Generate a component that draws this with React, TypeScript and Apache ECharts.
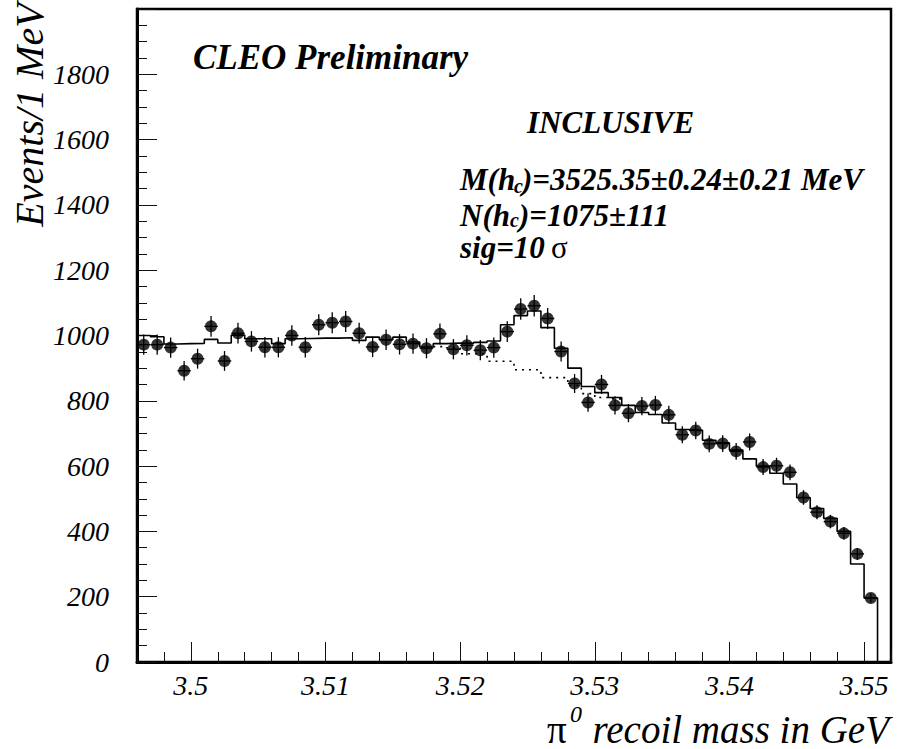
import React, { useEffect, useRef } from "react";
import * as echarts from "echarts";

// ---- binning (GeV) ----
const BIN_START = 3.496;
const BIN_WIDTH = 0.001;
const X_MAX = 3.552;

// ---- data: events per 1 MeV bin (55 bins, 3.496 .. 3.551) ----
const counts = [
  972, 972, 963, 892, 929, 1028, 922, 1007, 982, 964,
  964, 1000, 964, 1033, 1039, 1043, 1007, 965, 987, 973,
  975, 961, 1005, 958, 970, 955, 963, 1012, 1081, 1091,
  1052, 951, 853, 795, 850, 786, 762, 784, 787, 757,
  696, 709, 668, 669, 645, 674, 597, 601, 581, 504,
  459, 430, 394, 331, 196,
];

// ---- fit (signal + background) histogram ----
const fitTotal = [
  1000, 996, 974, 975, 976, 988, 977, 1001, 990, 990,
  975, 990, 991, 992, 992, 993, 985, 995, 987, 995,
  980, 965, 975, 977, 976, 979, 983, 1033, 1061, 1075,
  1024, 961, 900, 844, 825, 810, 786, 764, 758, 732,
  712, 710, 679, 671, 649, 622, 600, 578, 545, 503,
  470, 440, 400, 300, 196,
];

// ---- background-only part of the fit (dotted), bins 22..35 ----
const BG_FIRST_BIN = 22;
const fitBackground = [966, 962, 944, 944, 921, 921, 895, 895, 871, 871, 847, 822, 810, 806];

// ---- axis tick labels ----
const xTickLabels = ["3.5", "3.51", "3.52", "3.53", "3.54", "3.55"];
const yTickLabels = ["0", "200", "400", "600", "800", "1000", "1200", "1400", "1600", "1800"];

const SERIF = "Liberation Serif";

const r4 = (v: number) => Math.round(v * 1e6) / 1e6;

function stepPoints(values: number[], firstBin: number): number[][] {
  const pts: number[][] = [];
  values.forEach((v, k) => {
    const lo = r4(BIN_START + (firstBin + k) * BIN_WIDTH);
    const hi = r4(lo + BIN_WIDTH);
    pts.push([lo, v], [hi, v]);
  });
  return pts;
}

export default function App() {
  const ref = useRef<HTMLDivElement>(null);

  useEffect(() => {
    if (!ref.current) return;
    const chart = echarts.init(ref.current, undefined, { renderer: "svg" });

    const centers = counts.map((_, i) => r4(BIN_START + (i + 0.5) * BIN_WIDTH));
    const points = counts.map((c, i) => [centers[i], c]);
    const errors = counts.map((c, i) => [centers[i], c, Math.sqrt(c)]);

    const fitLine = stepPoints(fitTotal, 0);
    const lastEdge = r4(BIN_START + fitTotal.length * BIN_WIDTH);
    fitLine.push([lastEdge, 0], [X_MAX, 0]);
    const bgLine = stepPoints(fitBackground, BG_FIRST_BIN);

    // category axis used only for the long (major) ticks and their labels
    const tickCats: string[] = [];
    for (let k = Math.round(BIN_START * 1000); k <= Math.round(X_MAX * 1000); k += 2) {
      tickCats.push((k / 1000).toFixed(3));
    }
    const isMajor = (v: string) => xTickLabels.includes(String(Number(v)));

    const axisLabelFont = {
      fontFamily: SERIF,
      fontStyle: "italic" as const,
      fontSize: 28,
      color: "#000",
    };

    const txt = (
      text: string,
      x: number,
      y: number,
      size: number,
      bold = true,
      italic = true,
      extra: any = {}
    ) => ({
      type: "text",
      x,
      y,
      silent: true,
      ...extra,
      style: {
        text,
        fontFamily: SERIF,
        fontSize: size,
        lineHeight: size,
        fontWeight: bold ? "bold" : "normal",
        fontStyle: italic ? "italic" : "normal",
        fill: "#000",
        align: extra.align || "left",
        textAlign: extra.align || "left",
        verticalAlign: "middle",
        textVerticalAlign: "middle",
      },
    });

    chart.setOption({
      animation: false,
      backgroundColor: "#fff",
      grid: {
        left: 137,
        right: 6,
        top: 9,
        bottom: 87,
        show: true,
        borderColor: "#000",
        borderWidth: 2.5,
        backgroundColor: "transparent",
        outerBoundsMode: "none",
        containLabel: false,
      },
      xAxis: [
        {
          type: "value",
          min: BIN_START,
          max: X_MAX,
          interval: 0.002,
          axisLine: { show: true, onZero: false, lineStyle: { color: "#000", width: 3 } },
          axisTick: { show: true, inside: true, length: 10, lineStyle: { color: "#111", width: 1 } },
          axisLabel: { show: false },
          splitLine: { show: false },
        },
        {
          type: "category",
          data: tickCats,
          boundaryGap: false,
          position: "bottom",
          axisLine: { show: false },
          axisTick: {
            show: true,
            inside: true,
            length: 20,
            interval: (_i: number, v: string) => isMajor(v),
            lineStyle: { color: "#111", width: 1 },
          },
          axisLabel: {
            ...axisLabelFont,
            margin: 9,
            interval: (_i: number, v: string) => isMajor(v),
            formatter: (v: string) => String(Number(v)),
          },
          splitLine: { show: false },
        },
      ],
      yAxis: {
        type: "value",
        min: 0,
        max: 2000,
        interval: 200,
        axisLine: { show: true, onZero: false, lineStyle: { color: "#000", width: 3 } },
        axisTick: { show: true, inside: true, length: 20, lineStyle: { color: "#111", width: 1 } },
        minorTick: { show: true, splitNumber: 4, length: 10, lineStyle: { color: "#111", width: 1 } },
        axisLabel: {
          ...axisLabelFont,
          margin: 28,
          formatter: (v: number) => (yTickLabels.includes(String(v)) ? String(v) : ""),
        },
        splitLine: { show: false },
        minorSplitLine: { show: false },
      },
      series: [
        {
          type: "line",
          name: "fit",
          data: fitLine,
          showSymbol: false,
          symbol: "none",
          lineStyle: { color: "#000", width: 1.6 },
          z: 2,
        },
        {
          type: "line",
          name: "background",
          data: bgLine,
          showSymbol: false,
          symbol: "none",
          lineStyle: { color: "#000", width: 1.6, type: [2, 5] },
          z: 2,
        },
        {
          type: "custom",
          name: "errors",
          data: errors,
          encode: { x: 0, y: 1 },
          z: 3,
          renderItem: (_p: any, api: any) => {
            const x = api.value(0);
            const y = api.value(1);
            const e = api.value(2);
            const top = api.coord([x, y + e]);
            const bot = api.coord([x, y - e]);
            const l = api.coord([x - BIN_WIDTH / 2, y]);
            const r = api.coord([x + BIN_WIDTH / 2, y]);
            const st = { stroke: "#000", lineWidth: 1.3 };
            return {
              type: "group",
              children: [
                { type: "line", shape: { x1: top[0], y1: top[1], x2: bot[0], y2: bot[1] }, style: st },
                { type: "line", shape: { x1: l[0], y1: l[1], x2: r[0], y2: r[1] }, style: st },
              ],
            };
          },
        },
        {
          type: "scatter",
          name: "data",
          data: points,
          symbol: "circle",
          symbolSize: 12,
          itemStyle: { color: "#000" },
          z: 4,
        },
      ],
      graphic: [
        txt("Events/1 MeV", 29, 115, 40, false, true, { rotation: Math.PI / 2, align: "center" }),
        txt("π", 547, 729, 39, false, false),
        txt("0", 570, 714, 24, false, true),
        txt("recoil mass in GeV", 889, 729, 39, false, true, { align: "right" }),
        txt("CLEO Preliminary", 193, 57, 35),
        txt("INCLUSIVE", 527, 122.5, 31),
        txt("M(h", 460, 179.5, 31),
        txt("c", 514, 186, 20),
        txt(")=3525.35±0.24±0.21 MeV", 522, 179.5, 31),
        txt("N(h", 460, 215, 31),
        txt("c", 510, 220, 20),
        txt(")=1075±111", 519, 215, 31),
        txt("sig=10", 460, 247.5, 31),
        txt("σ", 551, 247.5, 31, false, false),
      ],
    });

    return () => chart.dispose();
  }, []);

  return (
    <div
      ref={ref}
      style={{ position: "fixed", left: 0, top: 0, width: 897, height: 749, background: "#fff" }}
    />
  );
}
